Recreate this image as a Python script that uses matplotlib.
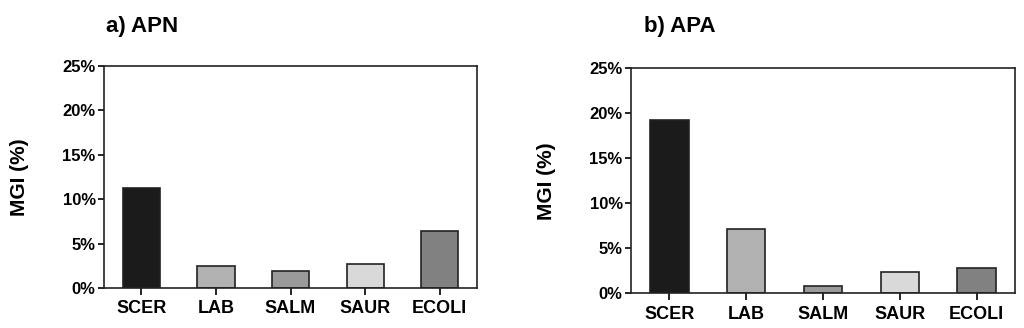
import matplotlib.pyplot as plt
from matplotlib.ticker import FuncFormatter

plt.rcParams['font.family'] = ['Liberation Sans', 'DejaVu Sans']
plt.rcParams['font.weight'] = 'bold'

# data
organisms = ['SCER', 'LAB', 'SALM', 'SAUR', 'ECOLI']
apn = [11.3, 2.5, 1.95, 2.75, 6.4]
apa = [19.3, 7.1, 0.75, 2.35, 2.8]
bar_colors = ['#1b1b1b', '#b1b1b1', '#9a9a9a', '#d9d9d9', '#818181']
yticks = [0, 5, 10, 15, 20, 25]

fig = plt.figure(figsize=(10.24, 3.28), dpi=100)
axA = fig.add_axes([0.1016, 0.122, 0.3643, 0.677])
axB = fig.add_axes([0.6162, 0.106, 0.375, 0.686])

def StylePanel(ax, vals, title, tx):
    x = range(len(organisms))
    ax.bar(x, vals, width=0.5, color=bar_colors, edgecolor='#222222', linewidth=1.2)
    ax.set_xlim(-0.5, len(organisms) - 0.5)
    ax.set_ylim(0, 25)
    ax.set_yticks(yticks)
    ax.yaxis.set_major_formatter(FuncFormatter(lambda v, p: '%d%%' % v))
    ax.set_xticks(list(x))
    ax.set_xticklabels(organisms, fontsize=13, fontweight='bold')
    ax.tick_params(axis='y', labelsize=12, length=4, width=1.2, pad=2)
    ax.tick_params(axis='x', length=5, width=1.2, pad=4)
    for s in ax.spines.values():
        s.set_linewidth(1.2)
        s.set_color('#222222')
    ax.set_ylabel('MGI (%)', fontsize=15, fontweight='bold', labelpad=24)
    fig.text(tx, 0.92, title, fontsize=16, fontweight='bold', va='center', ha='left')

StylePanel(axA, apn, 'a) APN', 0.104)
StylePanel(axB, apa, 'b) APA', 0.629)

fig.savefig('out.png', dpi=100)
